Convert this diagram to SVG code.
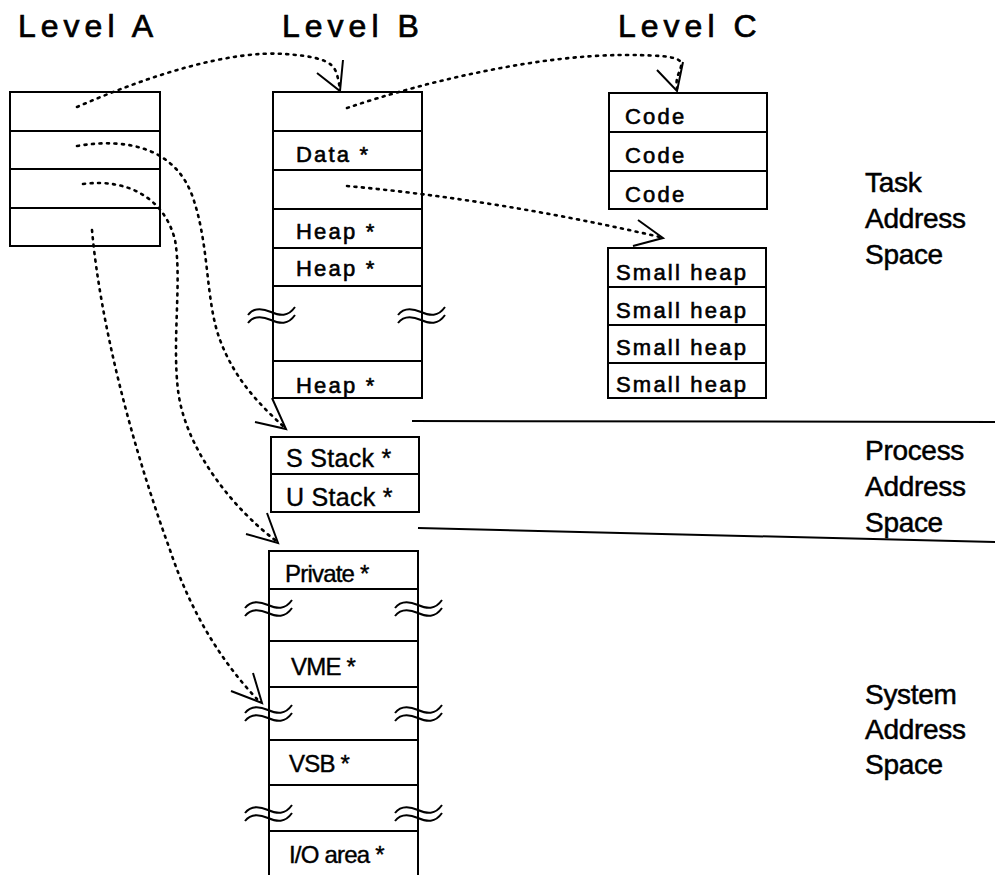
<svg xmlns="http://www.w3.org/2000/svg" width="995" height="875" viewBox="0 0 995 875">
  <style>
    .box { fill: #fff; stroke: #000; stroke-width: 2; }
    .div { stroke: #000; stroke-width: 1.8; fill: none; }
    .head { font-family: "Liberation Sans", Arial, sans-serif; font-size: 32px; letter-spacing: 5px; fill: #000; stroke: #000; stroke-width: 0.7px; }
    .lbl { font-family: "Liberation Sans", Arial, sans-serif; font-size: 22px; letter-spacing: 2.2px; fill: #000; stroke: #000; stroke-width: 0.6px; }
    .lbl2 { font-family: "Liberation Sans", Arial, sans-serif; font-size: 24px; letter-spacing: -0.8px; fill: #000; stroke: #000; stroke-width: 0.4px; }
    .stk { font-family: "Liberation Sans", Arial, sans-serif; font-size: 25px; letter-spacing: 0.3px; fill: #000; stroke: #000; stroke-width: 0.4px; }
    .side { font-family: "Liberation Sans", Arial, sans-serif; font-size: 28px; letter-spacing: -0.3px; fill: #000; stroke: #000; stroke-width: 0.5px; }
    .dot { fill: none; stroke: #000; stroke-width: 2.6; stroke-dasharray: 2 5.5; stroke-linecap: round; }
    .head-v { fill: none; stroke: #000; stroke-width: 2; stroke-linejoin: miter; }
    .sep { stroke: #000; stroke-width: 2; }
    .wave { fill: none; stroke: #000; stroke-width: 2; }
  </style>
  <defs>
    <g id="brk">
      <path class="wave" d="M0,3 C6,-5 14,-4 23,0 S40,5 47,-5"/>
      <path class="wave" d="M0,11 C6,3 14,4 23,8 S40,13 47,3"/>
    </g>
  </defs>

  <!-- column headings -->
  <text class="head" x="18" y="37">Level A</text>
  <text class="head" x="282" y="37">Level B</text>
  <text class="head" x="618" y="37">Level C</text>

  <!-- Level A table -->
  <g id="level-a">
    <rect class="box" x="10" y="92" width="150" height="154"/>
    <line class="div" x1="10" y1="131" x2="160" y2="131"/>
    <line class="div" x1="10" y1="169" x2="160" y2="169"/>
    <line class="div" x1="10" y1="208" x2="160" y2="208"/>
  </g>

  <!-- Level B table (task part) -->
  <g id="level-b-task">
    <rect class="box" x="273" y="92" width="149" height="306"/>
    <line class="div" x1="273" y1="131" x2="422" y2="131"/>
    <line class="div" x1="273" y1="170" x2="422" y2="170"/>
    <line class="div" x1="273" y1="209" x2="422" y2="209"/>
    <line class="div" x1="273" y1="248" x2="422" y2="248"/>
    <line class="div" x1="273" y1="286" x2="422" y2="286"/>
    <line class="div" x1="273" y1="361" x2="422" y2="361"/>
    <text class="lbl" x="296" y="162">Data *</text>
    <text class="lbl" x="296" y="239">Heap *</text>
    <text class="lbl" x="296" y="276">Heap *</text>
    <text class="lbl" x="296" y="393">Heap *</text>
    <use href="#brk" x="248" y="312"/>
    <use href="#brk" x="398" y="312"/>
  </g>

  <!-- Level B table (process part) -->
  <g id="level-b-process">
    <rect class="box" x="271" y="437" width="148" height="75"/>
    <line class="div" x1="271" y1="474" x2="419" y2="474"/>
    <text class="stk" x="286" y="467">S Stack *</text>
    <text class="stk" x="286" y="506">U Stack *</text>
  </g>

  <!-- Level B table (system part) -->
  <g id="level-b-system">
    <path class="box" d="M269,885 L269,551 L418,551 L418,885"/>
    <line class="div" x1="269" y1="589" x2="418" y2="589"/>
    <line class="div" x1="269" y1="641" x2="418" y2="641"/>
    <line class="div" x1="269" y1="687" x2="418" y2="687"/>
    <line class="div" x1="269" y1="740" x2="418" y2="740"/>
    <line class="div" x1="269" y1="785" x2="418" y2="785"/>
    <line class="div" x1="269" y1="831" x2="418" y2="831"/>
    <text class="lbl2" x="285" y="582">Private *</text>
    <text class="lbl2" x="291" y="675">VME *</text>
    <text class="lbl2" x="289" y="772">VSB *</text>
    <text class="lbl2" x="289" y="863">I/O area *</text>
    <use href="#brk" x="245" y="605"/>
    <use href="#brk" x="395" y="605"/>
    <use href="#brk" x="245" y="710"/>
    <use href="#brk" x="395" y="710"/>
    <use href="#brk" x="245" y="810"/>
    <use href="#brk" x="395" y="810"/>
  </g>

  <!-- Level C code table -->
  <g id="level-c-code">
    <rect class="box" x="609" y="93" width="158" height="116"/>
    <line class="div" x1="609" y1="132" x2="767" y2="132"/>
    <line class="div" x1="609" y1="171" x2="767" y2="171"/>
    <text class="lbl" x="625" y="124">Code</text>
    <text class="lbl" x="625" y="163">Code</text>
    <text class="lbl" x="625" y="202">Code</text>
  </g>

  <!-- Level C small heap table -->
  <g id="level-c-heap">
    <rect class="box" x="608" y="248" width="158" height="150"/>
    <line class="div" x1="608" y1="287" x2="766" y2="287"/>
    <line class="div" x1="608" y1="325" x2="766" y2="325"/>
    <line class="div" x1="608" y1="363" x2="766" y2="363"/>
    <text class="lbl" x="616" y="280">Small heap</text>
    <text class="lbl" x="616" y="318">Small heap</text>
    <text class="lbl" x="616" y="355">Small heap</text>
    <text class="lbl" x="616" y="392">Small heap</text>
  </g>

  <!-- address space separators and labels -->
  <g id="spaces">
    <line class="sep" x1="412" y1="421" x2="995" y2="422"/>
    <line class="sep" x1="418" y1="528" x2="995" y2="542"/>
    <text class="side" x="865" y="192">Task</text>
    <text class="side" x="865" y="228">Address</text>
    <text class="side" x="865" y="264">Space</text>
    <text class="side" x="865" y="460">Process</text>
    <text class="side" x="865" y="496">Address</text>
    <text class="side" x="865" y="532">Space</text>
    <text class="side" x="865" y="704">System</text>
    <text class="side" x="865" y="739">Address</text>
    <text class="side" x="865" y="774">Space</text>
  </g>

  <!-- pointer connectors -->
  <g id="connectors">
    <path class="dot" d="M77,107 C150,75 230,50 285,54 S335,68 340,88"/>
    <polyline class="head-v" points="343,60 340,91 317,73"/>

    <path class="dot" d="M347,108 C430,80 540,55 625,55 S672,65 677,88"/>
    <polyline class="head-v" points="683,62 677,91 657,70"/>

    <path class="dot" d="M347,186 Q500,200 660,237"/>
    <polyline class="head-v" points="638,220 663,238 633,246"/>

    <path class="dot" d="M77,146 C130,137 175,150 192,195 C210,245 205,300 220,340 C235,380 260,405 283,426"/>
    <polyline class="head-v" points="272,398 286,429 255,422"/>

    <path class="dot" d="M83,184 C130,178 165,200 175,240 C182,280 172,340 178,390 C185,450 235,510 275,540"/>
    <polyline class="head-v" points="267,513 278,543 246,534"/>

    <path class="dot" d="M92,230 C100,320 130,440 170,550 C190,610 220,660 257,699"/>
    <polyline class="head-v" points="253,673 262,703 231,691"/>
  </g>
</svg>
